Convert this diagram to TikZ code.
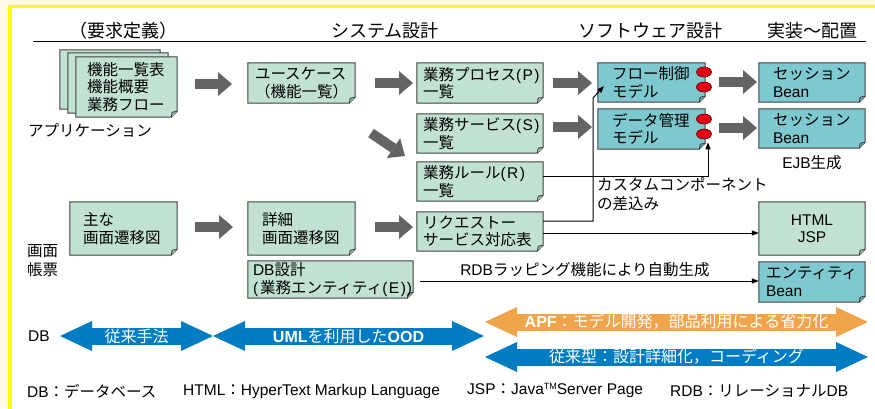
\documentclass[tikz,border=0pt]{standalone}
\usepackage{fontspec}
\setmainfont{Liberation Sans}
\newfontfamily\jp{Noto Sans CJK JP}
\newfontfamily\latf{Liberation Sans}
\usetikzlibrary{arrows.meta,shapes.geometric}
\pgfdeclarelayer{bgzero}
\pgfdeclarelayer{bgone}
\pgfsetlayers{bgzero,bgone,main}
\newcommand\lat[1]{{\latf #1}}
\newcommand\myfs{\fontsize{15.5}{17.5}\selectfont}
\newcommand\pl[1]{\lat{(\kern1.5pt #1\kern1.5pt)}}
\newcommand\mytm{\raisebox{5pt}{\fontsize{9}{9}\selectfont TM}}
\definecolor{docgreen}{RGB}{193,226,211}
\definecolor{docteal}{RGB}{126,200,208}
\definecolor{docedge}{RGB}{64,64,64}
\definecolor{graybar}{RGB}{100,100,100}
\definecolor{arrowblue}{RGB}{0,124,194}
\definecolor{arroworange}{RGB}{241,165,75}
\definecolor{cream}{RGB}{255,251,229}
\definecolor{frameyellow}{RGB}{255,255,0}
\definecolor{portred}{RGB}{228,0,20}
\definecolor{portdark}{RGB}{90,0,0}
\newcommand\foldshape[2]{%
\begin{pgfonlayer}{bgone}
\draw[docline, fill=#2] (#1.north west) -- (#1.north east) -- ([yshift=6pt]#1.south east) -- ([xshift=-6pt]#1.south east) -- (#1.south west) -- cycle;
\draw[docline, fill=#2!80!black, line width=0.8pt] ([xshift=-6pt]#1.south east) -- ([xshift=-5pt,yshift=5pt]#1.south east) -- ([yshift=6pt]#1.south east);
\end{pgfonlayer}}
\tikzset{
 docnode/.style={inner ysep=0pt, align=left, font=\jp\myfs, text=black},
 docline/.style={draw=docedge, line width=1pt},
 lbl/.style={font=\jp\myfs, inner sep=0pt, align=left},
 hdr/.style={font=\jp\fontsize{18}{20}\selectfont, inner sep=0pt},
 grayarrow/.style={line width=10pt, draw=graybar, -{Triangle[length=14pt 0 0,width=24pt 0 0,line width=0pt 0 0]}},
 conn/.style={draw=black, line width=1pt},
 tipped/.style={-{Triangle[length=7pt 0 0,width=5pt 0 0]}},
 blockarrow/.style={line width=17pt, {Triangle[length=32pt 0 0,width=30pt 0 0,line width=0pt 0 0]}-{Triangle[length=32pt 0 0,width=30pt 0 0,line width=0pt 0 0]}},
 atext/.style={text=white, font=\jp\fontsize{16}{18}\selectfont, inner sep=0pt},
 port/.style={ellipse, fill=portred, draw=portdark, line width=0.6pt, minimum width=15pt, minimum height=10pt, inner sep=0pt}
}
\begin{document}
\begin{tikzpicture}[x=1pt,y=-1pt]
\useasboundingbox (0,0) rectangle (875,408);
\begin{pgfonlayer}{bgzero}
\fill[cream] (0,0) rectangle (875,408);
\draw[frameyellow, line width=3.3pt, fill=white] (10,6.7) rectangle (885,418);
\end{pgfonlayer}

% headers
\node[hdr] (h1) at (123,31) {（要求定義）};
\node[hdr] (h2) at (385,31) {システム設計};
\node[hdr] (h3) at (650,31) {ソフトウェア設計};
\node[hdr] (h4) at (812,31) {実装～配置};
\draw[line width=1pt] (33,41) -- (866,41);

% stacked documents
\node[docnode, minimum width=100pt, minimum height=59pt] (st3) at (110,79.5) {};
\foldshape{st3}{docgreen}
\node[docnode, minimum width=100pt, minimum height=60pt] (st2) at (118,83) {};
\foldshape{st2}{docgreen}
\node[docnode, text width=79pt, inner xsep=11pt, minimum height=60pt] (front) at (126.5,87) {機能一覧表\\機能概要\\業務フロー};
\foldshape{front}{docgreen}
\node[lbl, anchor=west] (app) at (28,130) {アプリケーション};

% system design boxes
\node[docnode, text width=93pt, inner xsep=7pt, minimum height=40pt] (uc) at (301.5,83) {ユースケース\\（機能一覧）};
\foldshape{uc}{docgreen}
\node[docnode, text width=114pt, inner xsep=6pt, minimum height=40pt] (P) at (480,83) {業務プロセス\pl{P}\\一覧};
\foldshape{P}{docgreen}
\node[docnode, text width=114pt, inner xsep=6pt, minimum height=39pt] (S) at (480,133.5) {業務サービス\pl{S}\\一覧};
\foldshape{S}{docgreen}
\node[docnode, text width=114pt, inner xsep=6pt, minimum height=39pt] (R) at (480,181.5) {業務ルール\pl{R}\\一覧};
\foldshape{R}{docgreen}
\node[docnode, text width=114pt, inner xsep=6pt, minimum height=39pt] (req) at (480,231.5) {リクエストー\\サービス対応表};
\foldshape{req}{docgreen}

% software design
\node[docnode, text width=79pt, inner xsep=14pt, minimum height=39pt] (flow) at (651.5,82.5) {フロー制御\\モデル};
\foldshape{flow}{docteal}
\node[docnode, text width=79pt, inner xsep=14pt, minimum height=40pt] (data) at (651.5,129) {データ管理\\モデル};
\foldshape{data}{docteal}
\node[port] (f1) at (704,72) {};
\node[port] (f2) at (704,87) {};
\node[port] (d1) at (704,119) {};
\node[port] (d2) at (704,134) {};

% implementation
\node[docnode, text width=78pt, inner xsep=14pt, minimum height=39pt] (sess1) at (812,82.5) {セッション\\\lat{Bean}};
\foldshape{sess1}{docteal}
\node[docnode, text width=78pt, inner xsep=14pt, minimum height=39pt] (sess2) at (812,128.5) {セッション\\\lat{Bean}};
\foldshape{sess2}{docteal}
\node[lbl] (ejb) at (812,163) {\lat{EJB}生成};
\node[docnode, text width=90pt, inner xsep=8pt, minimum height=53pt, align=center] (html) at (812,228.5) {\lat{HTML}\\\lat{JSP}};
\foldshape{html}{docgreen}
\node[docnode, text width=92pt, inner xsep=7pt, minimum height=40pt] (ent) at (812,282) {エンティティ\\\lat{Bean}};
\foldshape{ent}{docteal}

% screens
\node[lbl, anchor=west] (gm) at (27,251) {画面};
\node[lbl, anchor=west] (ch) at (27,270) {帳票};
\node[docnode, text width=81pt, inner xsep=13pt, minimum height=53pt] (main) at (123.5,228.5) {主な\\画面遷移図};
\foldshape{main}{docgreen}
\node[docnode, text width=79pt, inner xsep=14pt, minimum height=53pt] (detail) at (301.5,228.5) {詳細\\画面遷移図};
\foldshape{detail}{docgreen}
\node[docnode, text width=155pt, inner xsep=5pt, minimum height=37pt] (db) at (330.5,279.5) {\lat{DB}設計\\\lat{(}\kern2pt 業務エンティティ\lat{(\kern1.5pt E\kern1.5pt)\kern1pt)}};
\foldshape{db}{docgreen}

% gray block arrows
\coordinate (a1s) at (195,84);  \coordinate (a1e) at (232,84);
\coordinate (a2s) at (375,83);  \coordinate (a2e) at (413,83);
\coordinate (a3s) at (553,83);  \coordinate (a3e) at (592,83);
\coordinate (a4s) at (553,127); \coordinate (a4e) at (592,127);
\coordinate (a5s) at (719,82);  \coordinate (a5e) at (757,82);
\coordinate (a6s) at (719,128); \coordinate (a6e) at (757,128);
\coordinate (a7s) at (371,133); \coordinate (a7e) at (405,156);
\coordinate (a8s) at (195,227); \coordinate (a8e) at (233,227);
\coordinate (a9s) at (375,227); \coordinate (a9e) at (413,227);
\foreach \n in {1,...,9} {\draw[grayarrow] (a\n s) -- (a\n e);}

% thin connectors
\draw[conn, tipped] ([yshift=5.5pt]R.east) -| ([xshift=4pt,yshift=-3pt]d2.south);
\coordinate (bend) at (593,98);
\coordinate (flowin) at (604,86);
\draw[conn, tipped] ([yshift=10.5pt]req.east) -| (bend) -- (flowin);
\node[lbl, anchor=west] (cust) at (597,194.5) {カスタムコンポーネント\\[1.5pt]の差込み};
\path ([yshift=-1.5pt]req.east) coordinate (r1);
\draw[conn, tipped] (r1) -- (r1 -| html.west);
\path ([xshift=7pt,yshift=-1.5pt]db.east) coordinate (r2);
\draw[conn, tipped] (r2) -- (r2 -| ent.west);
\node[lbl] (rdb) at (585,270) {\lat{RDB}ラッピング機能により自動生成};

% bottom arrows
\node[lbl, anchor=west] (dblbl) at (28,336) {\lat{DB}};
\coordinate (b1l) at (60,336);  \coordinate (b1r) at (213,336);
\coordinate (b2l) at (213,336); \coordinate (b2r) at (484,336);
\coordinate (b3l) at (485,322); \coordinate (b3r) at (868,322);
\coordinate (b4l) at (485,357); \coordinate (b4r) at (868,357);
\draw[blockarrow, draw=arrowblue] (b1l) -- node[atext] (t1) {従来手法} (b1r);
\draw[blockarrow, draw=arrowblue] (b2l) -- node[atext] (t2) {\lat{\bfseries UML}を利用した\lat{\bfseries OOD}} (b2r);
\draw[blockarrow, draw=arroworange] (b3l) -- node[atext] (t3) {\lat{\bfseries APF}：モデル開発，部品利用による省力化} (b3r);
\draw[blockarrow, draw=arrowblue] (b4l) -- node[atext] (t4) {従来型：設計詳細化，コーディング} (b4r);

% legend
\node[lbl, anchor=west] (l1) at (27,391) {\lat{DB}：データベース};
\node[lbl, anchor=west] (l2) at (183,391) {\lat{HTML}：\lat{HyperText Markup Language}};
\node[lbl, anchor=west] (l3) at (467,391) {\lat{JSP}：\lat{Java\mytm Server Page}};
\node[lbl, anchor=west] (l4) at (670,391) {\lat{RDB}：リレーショナル\lat{DB}};
\end{tikzpicture}
\end{document}
